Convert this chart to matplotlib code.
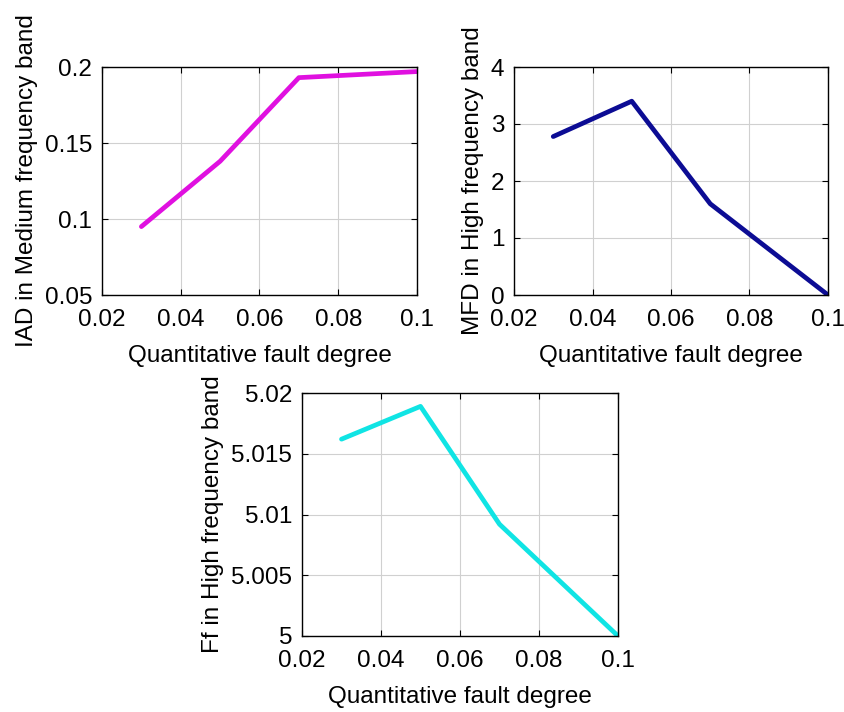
import matplotlib
matplotlib.use("Agg")
import matplotlib.pyplot as plt

plt.rcParams['font.family'] = ['Liberation Sans', 'DejaVu Sans']

# --- data ---
fault_degree = [0.03, 0.05, 0.07, 0.1]
iad_medium = [0.095, 0.138, 0.193, 0.197]
mfd_high = [2.78, 3.40, 1.60, 0.0]
ff_high = [5.0162, 5.0189, 5.0092, 5.0]

x_ticks = [0.02, 0.04, 0.06, 0.08, 0.1]
x_ticklabels = ['0.02', '0.04', '0.06', '0.08', '0.1']

W, H = 845, 712
FS = 17.5
fig = plt.figure(figsize=(W / 100, H / 100), dpi=100)


def make_ax(left, top, right, bottom):
    # pixel box -> figure fraction
    return fig.add_axes([left / W, 1 - bottom / H, (right - left) / W, (bottom - top) / H])


def style(ax, ylabel, yticks, yticklabels, ylim):
    ax.set_xlim(0.02, 0.1)
    ax.set_ylim(*ylim)
    ax.set_xticks(x_ticks)
    ax.set_xticklabels(x_ticklabels)
    ax.set_yticks(yticks)
    ax.set_yticklabels(yticklabels)
    ax.grid(True, color='#d0d0d0', linewidth=0.8)
    ax.set_axisbelow(True)
    ax.tick_params(direction='in', top=True, right=True, labelsize=FS, length=4)
    ax.tick_params(axis='x', pad=10)
    ax.tick_params(axis='y', pad=7)
    for s in ax.spines.values():
        s.set_linewidth(1.0)
    ax.set_xlabel('Quantitative fault degree', fontsize=FS, labelpad=10)
    ax.set_ylabel(ylabel, fontsize=FS, labelpad=5)


ax1 = make_ax(102, 67, 417, 295)
ax1.plot(fault_degree, iad_medium, color='#e010e0', linewidth=3.4, solid_capstyle='round')
style(ax1, 'IAD in Medium frequency band',
      [0.05, 0.1, 0.15, 0.2], ['0.05', '0.1', '0.15', '0.2'], (0.05, 0.2))

ax2 = make_ax(514, 67, 828, 295)
ax2.plot(fault_degree, mfd_high, color='#0c0c94', linewidth=3.4, solid_capstyle='round')
style(ax2, 'MFD in High frequency band',
      [0, 1, 2, 3, 4], ['0', '1', '2', '3', '4'], (0, 4))

ax3 = make_ax(302, 393, 618, 636)
ax3.plot(fault_degree, ff_high, color='#10e4e4', linewidth=3.4, solid_capstyle='round')
style(ax3, 'Ff in High frequency band',
      [5.0, 5.005, 5.01, 5.015, 5.02], ['5', '5.005', '5.01', '5.015', '5.02'], (5.0, 5.02))

fig.savefig('out.png', dpi=100)
